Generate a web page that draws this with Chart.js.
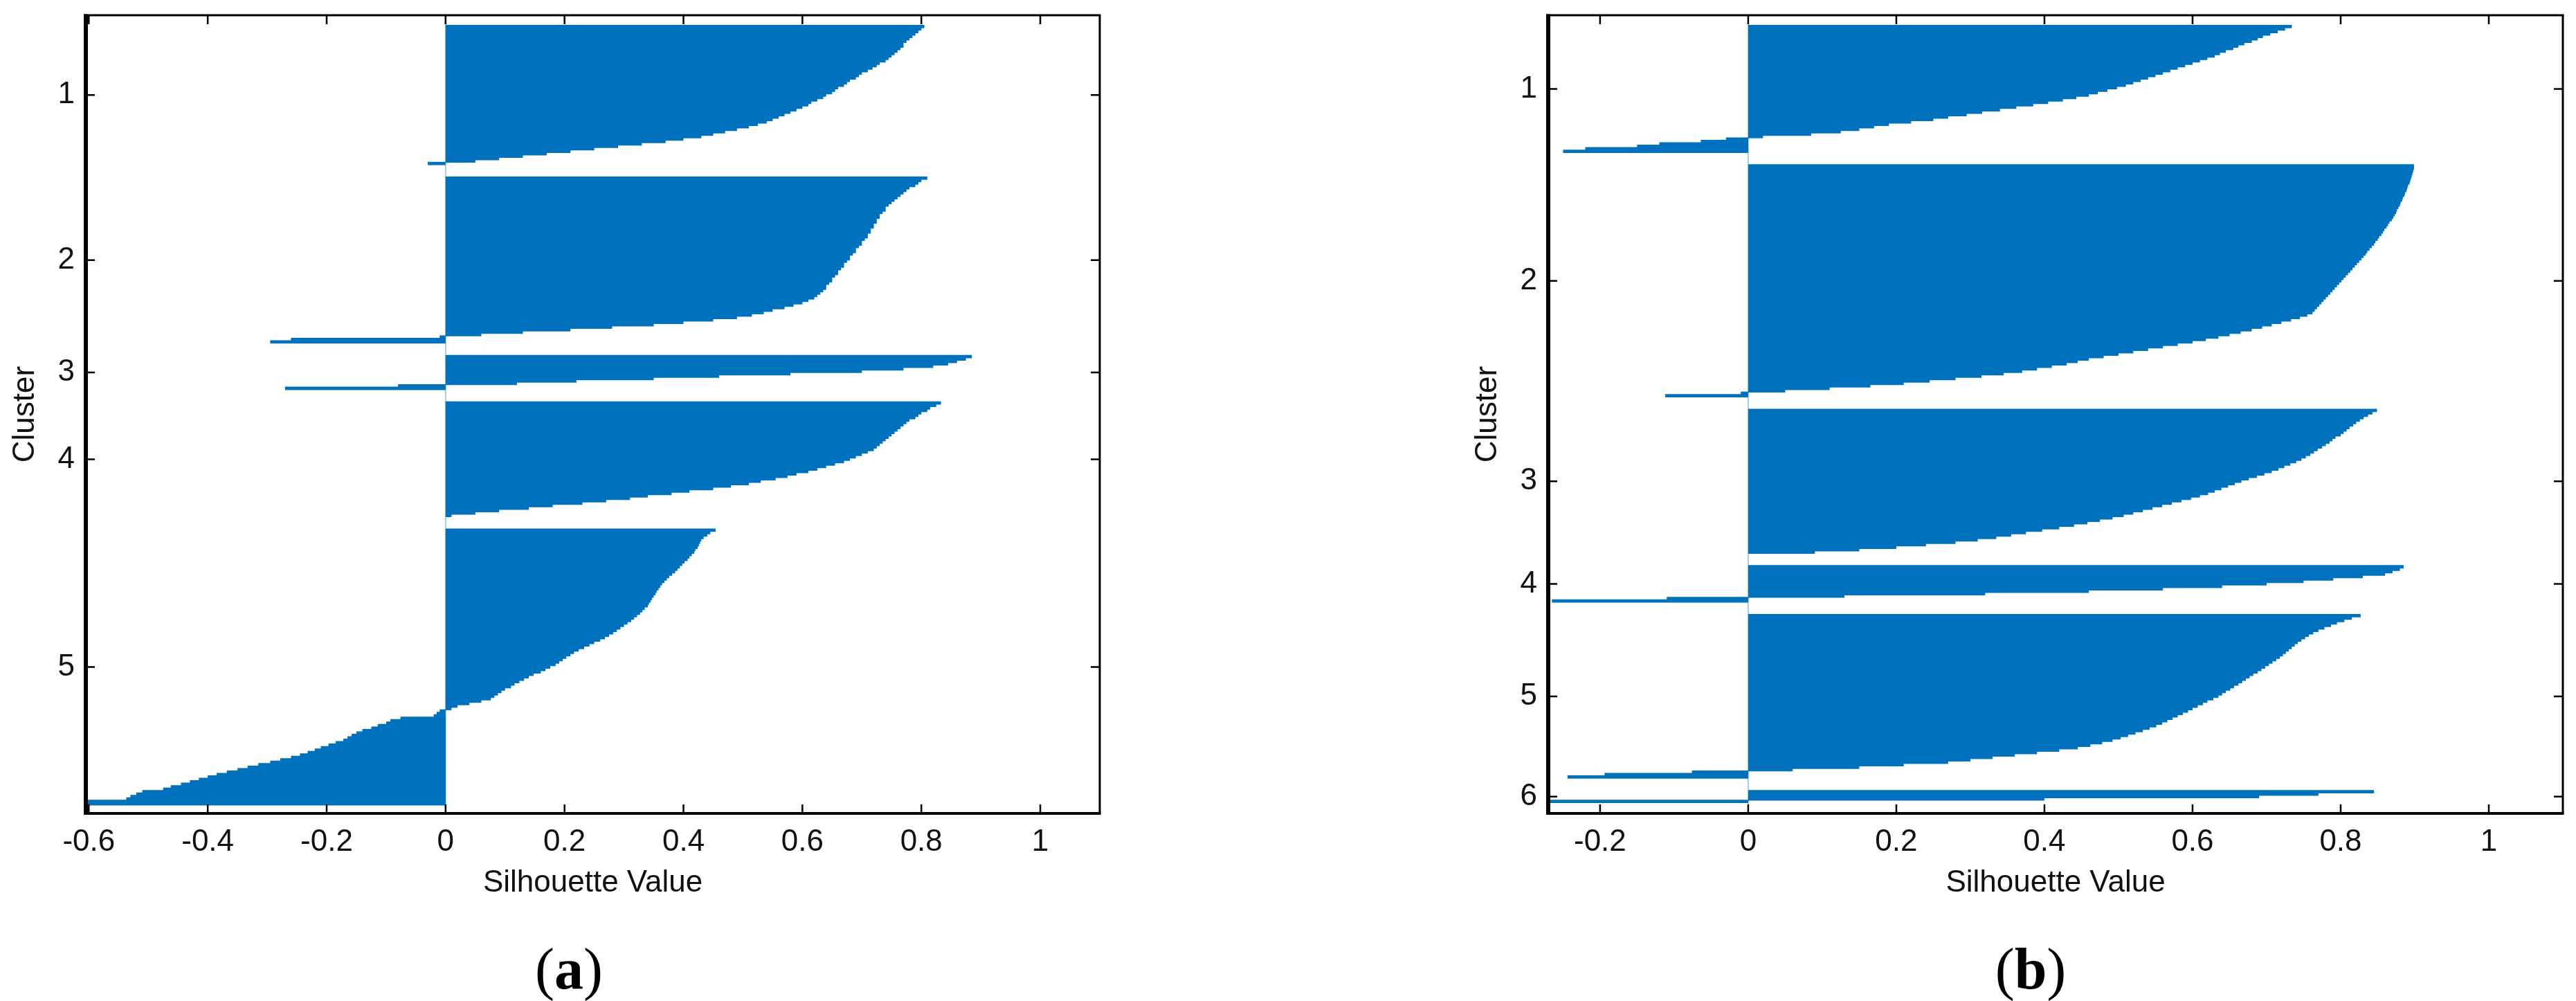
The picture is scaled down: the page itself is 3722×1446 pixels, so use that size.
<!DOCTYPE html>
<html>
<head>
<meta charset="utf-8">
<title>Silhouette plots</title>
<script src="https://cdn.jsdelivr.net/npm/chart.js@4.4.1/dist/chart.umd.min.js"></script>
<style>
  html, body { margin: 0; padding: 0; background: #fff; }
  body { width: 3722px; height: 1446px; position: relative; overflow: hidden; }
  .panel { position: absolute; top: 0; height: 1320px; }
  .caption {
    position: absolute;
    top: 1399px;
    transform: translate(-50%, -50%);
    font-family: 'Liberation Serif', 'Times New Roman', serif;
    font-size: 84px;
    color: #000;
    white-space: nowrap;
  }
</style>
</head>
<body>
<div class="panel" style="left:0; width:1700px;"><canvas id="chartA"></canvas></div>
<div class="panel" style="left:2113px; width:1609px;"><canvas id="chartB"></canvas></div>
<div class="caption" style="left:822px;">(<b>a</b>)</div>
<div class="caption" style="left:2934px;">(<b>b</b>)</div>

<script>
// silhouette values, sorted as drawn (top to bottom in each cluster)

// (a) five clusters
const silA1 = [0.805, 0.80, 0.795, 0.79, 0.785, 0.78, 0.775, 0.77, 0.77, 0.765,
  0.76, 0.755, 0.75, 0.745, 0.74, 0.73, 0.725, 0.718, 0.71, 0.70,
  0.695, 0.69, 0.68, 0.675, 0.67, 0.66, 0.655, 0.65, 0.64, 0.635,
  0.625, 0.615, 0.61, 0.60, 0.59, 0.58, 0.57, 0.56, 0.55, 0.54,
  0.525, 0.51, 0.49, 0.47, 0.45, 0.43, 0.40, 0.37, 0.33, 0.29,
  0.25, 0.21, 0.17, 0.13, 0.09, 0.05, -0.03];
const silA2 = [0.81, 0.80, 0.795, 0.79, 0.78, 0.775, 0.77, 0.765, 0.76, 0.755,
  0.75, 0.745, 0.74, 0.74, 0.735, 0.73, 0.73, 0.725, 0.725, 0.72,
  0.72, 0.715, 0.715, 0.71, 0.71, 0.705, 0.70, 0.70, 0.695, 0.69,
  0.69, 0.685, 0.68, 0.68, 0.675, 0.67, 0.67, 0.665, 0.66, 0.66,
  0.655, 0.65, 0.65, 0.645, 0.64, 0.64, 0.635, 0.63, 0.625, 0.62,
  0.61, 0.60, 0.585, 0.57, 0.55, 0.535, 0.515, 0.49, 0.45, 0.40,
  0.35, 0.28, 0.21, 0.13, 0.06, -0.01, -0.26, -0.295];
const silA3 = [0.885, 0.875, 0.86, 0.845, 0.82, 0.77, 0.70, 0.58, 0.46, 0.35,
  0.22, 0.12, -0.08, -0.27];
const silA4 = [0.833, 0.825, 0.815, 0.81, 0.80, 0.795, 0.79, 0.78, 0.775, 0.77,
  0.765, 0.76, 0.755, 0.75, 0.745, 0.74, 0.735, 0.73, 0.725, 0.72,
  0.71, 0.70, 0.69, 0.68, 0.67, 0.655, 0.64, 0.625, 0.61, 0.59,
  0.575, 0.555, 0.53, 0.51, 0.48, 0.45, 0.41, 0.38, 0.34, 0.31,
  0.27, 0.23, 0.18, 0.14, 0.09, 0.05, 0.01];
const silA5 = [0.454, 0.445, 0.44, 0.434, 0.43, 0.428, 0.426, 0.424, 0.42, 0.418,
  0.414, 0.41, 0.407, 0.402, 0.398, 0.394, 0.39, 0.386, 0.381, 0.376,
  0.372, 0.368, 0.364, 0.361, 0.358, 0.355, 0.353, 0.35, 0.347, 0.345,
  0.342, 0.34, 0.335, 0.331, 0.327, 0.322, 0.317, 0.312, 0.306, 0.30,
  0.294, 0.288, 0.282, 0.275, 0.268, 0.26, 0.25, 0.242, 0.233, 0.224,
  0.216, 0.21, 0.203, 0.197, 0.191, 0.185, 0.176, 0.168, 0.16, 0.148,
  0.14, 0.132, 0.124, 0.116, 0.11, 0.10, 0.094, 0.088, 0.082, 0.076,
  0.06, 0.04, 0.02, 0.01,
  -0.01, -0.015, -0.02, -0.076, -0.093, -0.10, -0.114, -0.125, -0.14, -0.15,
  -0.158, -0.165, -0.172, -0.185, -0.197, -0.21, -0.22, -0.232, -0.245, -0.26,
  -0.278, -0.295, -0.315, -0.333, -0.35, -0.368, -0.385, -0.40, -0.415, -0.43,
  -0.445, -0.462, -0.475, -0.51, -0.52, -0.53, -0.537, -0.602, -0.605];

// (b) six clusters
const silB1 = [0.734, 0.725, 0.715, 0.705, 0.695, 0.688, 0.68, 0.67, 0.662, 0.655,
  0.645, 0.637, 0.63, 0.62, 0.61, 0.60, 0.59, 0.58, 0.57, 0.56,
  0.55, 0.54, 0.53, 0.52, 0.51, 0.498, 0.485, 0.472, 0.46, 0.443,
  0.425, 0.405, 0.385, 0.362, 0.34, 0.316, 0.295, 0.27, 0.25, 0.22,
  0.19, 0.17, 0.15, 0.125, 0.085, 0.02, -0.03, -0.064, -0.12, -0.15,
  -0.22, -0.25];
const silB2 = [0.899, 0.899, 0.898, 0.897, 0.896, 0.895, 0.894, 0.893, 0.891, 0.89,
  0.889, 0.887, 0.886, 0.884, 0.883, 0.881, 0.88, 0.878, 0.876, 0.875,
  0.873, 0.871, 0.869, 0.866, 0.864, 0.862, 0.859, 0.857, 0.855, 0.852,
  0.85, 0.847, 0.845, 0.842, 0.839, 0.836, 0.834, 0.831, 0.828, 0.825,
  0.822, 0.819, 0.816, 0.813, 0.81, 0.807, 0.804, 0.801, 0.798, 0.795,
  0.792, 0.789, 0.786, 0.783, 0.78, 0.777, 0.774, 0.771, 0.768, 0.765,
  0.762, 0.755, 0.745, 0.733, 0.72, 0.707, 0.694, 0.68, 0.665, 0.65,
  0.635, 0.618, 0.60, 0.58, 0.56, 0.54, 0.52, 0.50, 0.48, 0.46,
  0.445, 0.43, 0.41, 0.39, 0.37, 0.345, 0.315, 0.28, 0.245, 0.21,
  0.165, 0.11, 0.05, -0.01, -0.112];
const silB3 = [0.849, 0.843, 0.837, 0.831, 0.826, 0.821, 0.817, 0.812, 0.808, 0.804,
  0.80, 0.793, 0.789, 0.785, 0.78, 0.775, 0.769, 0.764, 0.759,
  0.753, 0.747, 0.74, 0.732, 0.724, 0.716, 0.707, 0.697, 0.687, 0.676,
  0.666, 0.657, 0.648, 0.639, 0.63, 0.621, 0.61, 0.598, 0.585, 0.572,
  0.559, 0.546, 0.533, 0.52, 0.507, 0.492, 0.475, 0.458, 0.44, 0.42,
  0.397, 0.375, 0.355, 0.335, 0.31, 0.28, 0.24, 0.20, 0.15, 0.09];
const silB4 = [0.885, 0.88, 0.87, 0.86, 0.83, 0.79, 0.75, 0.70, 0.64, 0.56,
  0.46, 0.32, 0.13, -0.11, -0.265];
const silB5 = [0.827, 0.815, 0.805, 0.795, 0.787, 0.778, 0.77, 0.763, 0.757, 0.752,
  0.747, 0.742, 0.738, 0.734, 0.73, 0.726, 0.722, 0.718, 0.713, 0.708,
  0.703, 0.698, 0.693, 0.688, 0.682, 0.677, 0.672, 0.667, 0.662, 0.656,
  0.651, 0.645, 0.64, 0.635, 0.628, 0.62, 0.614, 0.607, 0.60, 0.594,
  0.587, 0.58, 0.573, 0.566, 0.559, 0.551, 0.542, 0.533, 0.523, 0.513,
  0.503, 0.492, 0.478, 0.462, 0.445, 0.42, 0.39, 0.36, 0.33, 0.30,
  0.27, 0.21, 0.15, 0.06, -0.076, -0.194, -0.244];
const silB6 = [0.845, 0.77, 0.69, 0.40, -0.27];

const clusterLabelsA = ['1', '2', '3', '4', '5'];
const clusterLabelsB = ['1', '2', '3', '4', '5', '6'];
const xTicksA = [-0.6, -0.4, -0.2, 0, 0.2, 0.4, 0.6, 0.8, 1];
const xTicksB = [-0.2, 0, 0.2, 0.4, 0.6, 0.8, 1];

// layout of the silhouette rows (in row units)
const FIRST_ROW = 5;
const GAP_ROWS = 5;
const Y_MIN = 0.34;
const Y_MAX = 326.9;
const TICK_LEN = 13;
const BAR_BLUE = '#0072bd';
const FONT = "'Liberation Sans', Arial, sans-serif";

// lay clusters out one after another, with a gap between them
function buildRows(clusters) {
  const points = [];
  const centers = [];
  let pos = FIRST_ROW;
  clusters.forEach(values => {
    const first = pos;
    values.forEach(v => {
      points.push({ x: v, y: pos });
      pos += 1;
    });
    centers.push((first + pos - 1) / 2);
    pos += GAP_ROWS;
  });
  return { points, centers };
}

// axes box with inward ticks on all four sides, plus the zero baseline
const framePlugin = {
  id: 'frame',
  beforeDatasetsDraw(chart) {
    const { ctx, chartArea: a, scales: { x } } = chart;
    const x0 = x.getPixelForValue(0);
    ctx.save();
    ctx.strokeStyle = 'rgba(0, 114, 189, 0.35)';
    ctx.lineWidth = 2;
    ctx.beginPath();
    ctx.moveTo(x0, a.top);
    ctx.lineTo(x0, a.bottom);
    ctx.stroke();
    ctx.restore();
  },
  afterDatasetsDraw(chart) {
    const { ctx, chartArea: a, scales: { x, y } } = chart;
    ctx.save();
    ctx.strokeStyle = '#000';
    ctx.lineWidth = 2.5;
    ctx.beginPath();
    x.ticks.forEach(t => {
      const px = x.getPixelForValue(t.value);
      ctx.moveTo(px, a.bottom);
      ctx.lineTo(px, a.bottom - TICK_LEN);
      ctx.moveTo(px, a.top);
      ctx.lineTo(px, a.top + TICK_LEN);
    });
    y.ticks.forEach(t => {
      const py = y.getPixelForValue(t.value);
      ctx.moveTo(a.left, py);
      ctx.lineTo(a.left + TICK_LEN, py);
      ctx.moveTo(a.right, py);
      ctx.lineTo(a.right - TICK_LEN, py);
    });
    ctx.stroke();

    // box: left and bottom drawn heavier, as in the original
    const edge = (x1, y1, x2, y2, w) => {
      ctx.lineWidth = w;
      ctx.beginPath();
      ctx.moveTo(x1, y1);
      ctx.lineTo(x2, y2);
      ctx.stroke();
    };
    edge(a.left - 3, a.top, a.right + 1.5, a.top, 3);
    edge(a.right, a.top, a.right, a.bottom, 3);
    edge(a.left - 3, a.bottom, a.right + 1.5, a.bottom, 4);
    edge(a.left, a.top - 1.5, a.left, a.bottom + 2, 6);
    ctx.restore();
  }
};

function makeSilhouette(canvasId, clusters, labels, xTicks, xMin, rightPad) {
  const rows = buildRows(clusters);

  return new Chart(document.getElementById(canvasId), {
    type: 'bar',
    data: {
      datasets: [{
        data: rows.points,
        backgroundColor: BAR_BLUE,
        borderWidth: 0,
        barPercentage: 1.35,
        categoryPercentage: 1
      }]
    },
    options: {
      indexAxis: 'y',
      responsive: true,
      maintainAspectRatio: false,
      animation: false,
      layout: { padding: { top: 22, right: rightPad, left: 0, bottom: 0 } },
      plugins: {
        legend: { display: false },
        tooltip: { enabled: false }
      },
      scales: {
        x: {
          type: 'linear',
          position: 'bottom',
          min: xMin,
          max: 1.1,
          offset: false,
          grid: { display: false, drawTicks: false, offset: false },
          border: { display: false },
          afterBuildTicks: scale => {
            scale.ticks = xTicks.map(v => ({ value: v }));
          },
          afterFit: scale => {
            scale.height = 145;
            scale.paddingLeft = 0;
            scale.paddingRight = 0;
          },
          ticks: {
            autoSkip: false,
            maxRotation: 0,
            padding: 15,
            color: '#111',
            font: { family: FONT, size: 44 },
            callback: v => String(v)
          },
          title: {
            display: true,
            text: 'Silhouette Value',
            color: '#111',
            font: { family: FONT, size: 44 },
            padding: { top: 0, bottom: 18 }
          }
        },
        y: {
          type: 'linear',
          position: 'left',
          reverse: true,
          min: Y_MIN,
          max: Y_MAX,
          offset: false,
          grid: { display: false, drawTicks: false, offset: false },
          border: { display: false },
          afterBuildTicks: scale => {
            scale.ticks = rows.centers.map(v => ({ value: v }));
          },
          afterFit: scale => {
            scale.width = 124;
            scale.paddingTop = 0;
            scale.paddingBottom = 0;
          },
          ticks: {
            autoSkip: false,
            padding: 16,
            color: '#111',
            font: { family: FONT, size: 44 },
            callback: (v, i) => labels[i]
          },
          title: {
            display: true,
            text: 'Cluster',
            color: '#111',
            font: { family: FONT, size: 44 },
            padding: { top: 10, bottom: 0 }
          }
        }
      }
    },
    plugins: [framePlugin]
  });
}

makeSilhouette('chartA', [silA1, silA2, silA3, silA4, silA5], clusterLabelsA, xTicksA, -0.605, 111);
makeSilhouette('chartB', [silB1, silB2, silB3, silB4, silB5, silB6], clusterLabelsB, xTicksB, -0.27, 19);
</script>
</body>
</html>
